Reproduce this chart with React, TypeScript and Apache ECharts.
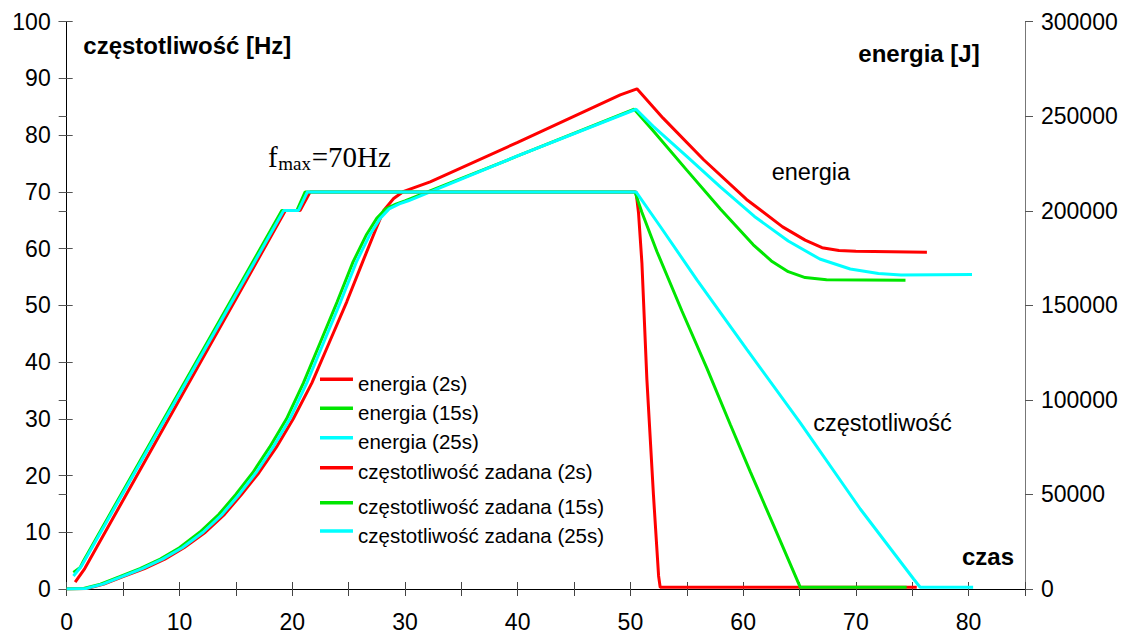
import { useEffect, useRef } from "react";
import * as echarts from "echarts";

// czas [s] on the x axis, labelled every 10 s, ticks every 5 s
const xTickLabels = [0, 10, 20, 30, 40, 50, 60, 70, 80];

// energia [J] vs czas [s]
const energia2s: [number, number][] = [
  [0, 0], [1.8, 300], [3.3, 2600], [5.0, 6500], [6.9, 10800], [8.7, 15800], [10.4, 21800],
  [12.3, 30000], [14.0, 39500], [15.5, 50000], [17.05, 61500], [18.6, 75000], [20.1, 90000],
  [21.75, 109000], [23.3, 130500], [24.85, 152000], [26.25, 173000], [27.4, 190000],
  [28.1, 200000], [29.0, 206500], [29.9, 210300], [32.24, 215300], [40, 236200],
  [49.1, 261300], [50.58, 264500], [52.9, 249000], [56.5, 227000], [60.3, 206000],
  [63.5, 191500], [65.5, 184500], [67, 180500], [68.5, 179000], [70, 178600], [76.3, 178100],
];
const energia15s: [number, number][] = [
  [0, 0], [1.5, 300], [3, 2600], [4.7, 6500], [6.5, 10800], [8.3, 15800], [10, 21800],
  [11.8, 30000], [13.5, 39500], [15, 50000], [16.5, 61500], [18, 75000], [19.5, 90000],
  [21, 109000], [22.5, 130500], [24, 152000], [25.4, 173000], [26.6, 187500], [27.5, 196000],
  [28.3, 201000], [29.2, 203500], [30, 205200], [40, 229000], [50.34, 253700],
  [52, 242500], [55, 221500], [58, 200800], [60.9, 182000], [62.5, 173500], [64, 167800],
  [65.5, 164700], [67.4, 163600], [74.4, 163300],
];
const energia25s: [number, number][] = [
  [0, 0], [1.7, 300], [3.2, 2600], [4.9, 6500], [6.7, 10800], [8.5, 15800], [10.25, 21800],
  [12.1, 30000], [13.8, 39500], [15.3, 50000], [16.8, 61500], [18.3, 75000], [19.8, 90000],
  [21.3, 109000], [22.8, 130500], [24.3, 152000], [25.7, 173000], [26.9, 187500],
  [27.8, 196000], [28.6, 201000], [29.5, 203700], [30.3, 205300], [40, 229000], [50.5, 253700],
  [52, 244800], [55, 228800], [58, 212500], [61, 197000], [64, 184000], [66.8, 174500],
  [69.5, 169200], [72, 166800], [74, 166100], [80.3, 166300],
];

// częstotliwość zadana [Hz] vs czas [s]
const czest2s: [number, number][] = [
  [0.75, 1.2], [1.6, 3.6], [19.4, 66.7], [20.7, 66.7], [21.6, 70], [50.5, 70],
  [50.72, 66.3], [51.02, 57.5], [51.46, 37], [52.05, 16.4], [52.5, 2.3], [52.64, 0.3], [75.4, 0.3],
];
const czest15s: [number, number][] = [
  [0.6, 2.9], [1.2, 3.8], [1.5, 5.0], [19.08, 66.7], [20.41, 66.7], [21.15, 70], [50.4, 70],
  [51, 66.5], [52.35, 59.5], [54.57, 49], [56.79, 38.9], [58.86, 29], [60.63, 20.7],
  [62.7, 11.2], [65.07, 0.3], [74.5, 0.3],
];
const czest25s: [number, number][] = [
  [0.6, 2.3], [1.3, 4.0], [19.25, 66.7], [20.55, 66.7], [21.35, 70], [50.5, 70],
  [52.65, 63.9], [55.9, 54.5], [60.34, 42.2], [65.07, 29.3], [70.39, 14.1], [75.12, 1.76],
  [75.7, 0.3], [80.4, 0.3],
];

const seriesNames = [
  "energia (2s)",
  "energia (15s)",
  "energia (25s)",
  "częstotliwość zadana (2s)",
  "częstotliwość zadana (15s)",
  "częstotliwość zadana (25s)",
];
const seriesColors = ["#ff0000", "#00e600", "#00ffff", "#ff0000", "#00e600", "#00ffff"];
const seriesData = [energia2s, energia15s, energia25s, czest2s, czest15s, czest25s];
const seriesAxis = [1, 1, 1, 0, 0, 0];

// vertical centre of each legend row
const legendRowY = [383.3, 412.3, 441.7, 471.7, 506.7, 535];

const SANS = "'Liberation Sans', Arial, sans-serif";
const SERIF = "'Liberation Serif', 'Times New Roman', serif";

function buildOption(): echarts.EChartsOption {
  const series = seriesNames.map((name, i) => ({
    name,
    type: "line" as const,
    yAxisIndex: seriesAxis[i],
    data: seriesData[i],
    showSymbol: false,
    symbol: "none",
    color: seriesColors[i],
    lineStyle: { color: seriesColors[i], width: 3 },
    z: 2 + i,
  }));

  const legend = seriesNames.map((name, i) => ({
    data: [name],
    left: 320,
    top: legendRowY[i] - 10.25,
    padding: 0,
    itemWidth: 33,
    itemHeight: 12,
    itemGap: 0,
    icon: "path://M0,0H33V3.5H0Z M0,12H0.01V12.01H0Z",
    selectedMode: false,
    textStyle: { fontFamily: SANS, fontSize: 20.5, color: "#000", padding: [0, 0, 0, 0] },
  }));

  const tickLabelStyle = { fontFamily: SANS, fontSize: 23, color: "#000" };

  return {
    animation: false,
    backgroundColor: "#fff",
    grid: { left: 66.7, right: 106, top: 21.7, bottom: 43, containLabel: false },
    legend,
    xAxis: [
      {
        type: "value",
        position: "bottom",
        min: 0,
        max: 85,
        interval: 5,
        splitLine: { show: false },
        axisLine: { show: true, onZero: false, lineStyle: { color: "#000", width: 1 } },
        axisTick: { show: true, inside: false, length: 7, lineStyle: { color: "#444" } },
        axisLabel: {
          ...tickLabelStyle,
          margin: 21,
          showMaxLabel: true,
          formatter: (v: number) => (xTickLabels.includes(v) ? String(v) : ""),
        },
      },
      {
        type: "value",
        position: "bottom",
        min: 0,
        max: 85,
        interval: 5,
        splitLine: { show: false },
        axisLine: { show: false },
        axisTick: { show: true, inside: true, length: 7, lineStyle: { color: "#444" } },
        axisLabel: { show: false },
      },
    ],
    yAxis: [
      {
        type: "value",
        position: "left",
        min: 0,
        max: 100,
        interval: 10,
        splitLine: { show: false },
        axisLine: { show: true, onZero: false, lineStyle: { color: "#000", width: 1 } },
        axisTick: { show: true, inside: false, length: 8, lineStyle: { color: "#555" } },
        axisLabel: { ...tickLabelStyle, margin: 16 },
      },
      {
        type: "value",
        position: "right",
        min: 0,
        max: 300000,
        interval: 50000,
        splitLine: { show: false },
        axisLine: { show: true, onZero: false, lineStyle: { color: "#777", width: 1 } },
        axisTick: { show: true, inside: false, length: 8, lineStyle: { color: "#555" } },
        axisLabel: { ...tickLabelStyle, margin: 16, formatter: (v: number) => String(v) },
      },
      {
        type: "value",
        position: "left",
        min: 0,
        max: 100,
        interval: 10,
        splitLine: { show: false },
        axisLine: { show: false },
        axisTick: { show: true, inside: true, length: 6, lineStyle: { color: "#555" } },
        axisLabel: { show: false },
      },
      {
        type: "value",
        position: "right",
        min: 0,
        max: 300000,
        interval: 50000,
        splitLine: { show: false },
        axisLine: { show: false },
        axisTick: { show: true, inside: true, length: 8, lineStyle: { color: "#555" } },
        axisLabel: { show: false },
      },
    ],
    series,
    graphic: [
      {
        type: "text",
        left: 83.3,
        top: 45 - 12,
        style: { text: "częstotliwość [Hz]", fontFamily: SANS, fontSize: 24, fontWeight: "bold", fill: "#000" },
      },
      {
        type: "text",
        left: 858.3,
        top: 53 - 12,
        style: { text: "energia [J]", fontFamily: SANS, fontSize: 24, fontWeight: "bold", fill: "#000" },
      },
      {
        type: "text",
        left: 962,
        top: 556.5 - 12,
        style: { text: "czas", fontFamily: SANS, fontSize: 24, fontWeight: "bold", fill: "#000" },
      },
      {
        type: "text",
        left: 771.7,
        top: 171.4 - 11.75,
        style: { text: "energia", fontFamily: SANS, fontSize: 23.5, fill: "#000" },
      },
      {
        type: "text",
        left: 813.3,
        top: 423 - 11.75,
        style: { text: "częstotliwość", fontFamily: SANS, fontSize: 23.5, fill: "#000" },
      },
      {
        type: "text",
        left: 268,
        top: 157 - 14.5,
        style: { text: "f", fontFamily: SERIF, fontSize: 29, fill: "#000" },
      },
      {
        type: "text",
        left: 278.3,
        top: 163 - 9.5,
        style: { text: "max", fontFamily: SERIF, fontSize: 19, fill: "#000" },
      },
      {
        type: "text",
        left: 311.7,
        top: 157 - 14.5,
        style: { text: "=70Hz", fontFamily: SERIF, fontSize: 29, fill: "#000" },
      },
    ],
  };
}

export default function App() {
  const ref = useRef<HTMLDivElement>(null);
  useEffect(() => {
    if (!ref.current) return;
    const chart = echarts.init(ref.current, null, { renderer: "svg" });
    chart.setOption(buildOption());
    return () => chart.dispose();
  }, []);
  return (
    <div
      ref={ref}
      style={{ position: "fixed", left: 0, top: 0, width: 1131, height: 633, background: "#fff" }}
    />
  );
}
